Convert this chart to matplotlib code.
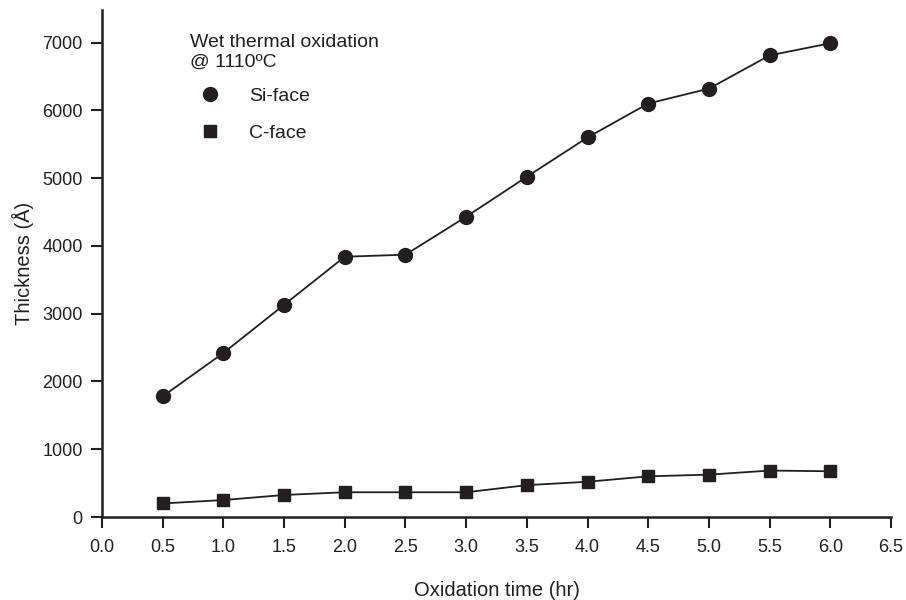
import matplotlib
matplotlib.use("Agg")
import matplotlib.pyplot as plt
from matplotlib.lines import Line2D

plt.rcParams['font.family'] = ['Liberation Sans', 'DejaVu Sans']

# data
time_hr = [0.5, 1.0, 1.5, 2.0, 2.5, 3.0, 3.5, 4.0, 4.5, 5.0, 5.5, 6.0]
si_face = [1780, 2420, 3130, 3840, 3870, 4430, 5020, 5600, 6100, 6320, 6810, 6990]
c_face = [200, 250, 325, 365, 365, 365, 470, 520, 600, 625, 685, 675]

x_ticks = [0.0, 0.5, 1.0, 1.5, 2.0, 2.5, 3.0, 3.5, 4.0, 4.5, 5.0, 5.5, 6.0, 6.5]
y_ticks = [0, 1000, 2000, 3000, 4000, 5000, 6000, 7000]

ink = '#231f20'

fig = plt.figure(figsize=(9.06, 6.0), dpi=100)
ax = fig.add_axes([102 / 906, 83 / 600, 789 / 906, 507 / 600])

ax.plot(time_hr, si_face, '-o', color=ink, lw=1.3, markersize=10)
ax.plot(time_hr, c_face, '-s', color=ink, lw=1.3, markersize=9)

ax.set_xlim(0, 6.5)
ax.set_ylim(0, 7480)
ax.set_xticks(x_ticks)
ax.set_xticklabels(['%.1f' % t for t in x_ticks])
ax.set_yticks(y_ticks)

for side in ['top', 'right']:
    ax.spines[side].set_visible(False)
for side in ['left', 'bottom']:
    ax.spines[side].set_linewidth(1.8)
    ax.spines[side].set_color(ink)
ax.tick_params(direction='out', length=8, width=1.5, color=ink,
               labelsize=13, labelcolor=ink, pad=6)
ax.tick_params(axis='x', pad=8)

ax.set_xlabel('Oxidation time (hr)', fontsize=14.5, color=ink, labelpad=18)
ax.set_ylabel('Thickness (Å)', fontsize=14.5, color=ink, labelpad=6)

handles = [
    Line2D([], [], ls='none', marker='o', color=ink, markersize=10),
    Line2D([], [], ls='none', marker='s', color=ink, markersize=9),
]
leg = ax.legend(handles, ['Si-face', 'C-face'],
                title='Wet thermal oxidation\n@ 1110\u00baC',
                loc='upper left', bbox_to_anchor=(0.112, 0.953),
                frameon=False, fontsize=14, title_fontsize=14,
                alignment='left', handletextpad=1.0, labelspacing=1.0,
                borderpad=0, borderaxespad=0)
for t in leg.get_texts():
    t.set_color(ink)
leg.get_title().set_color(ink)
leg._legend_box.sep = 12

fig.savefig('out.png', dpi=100)
